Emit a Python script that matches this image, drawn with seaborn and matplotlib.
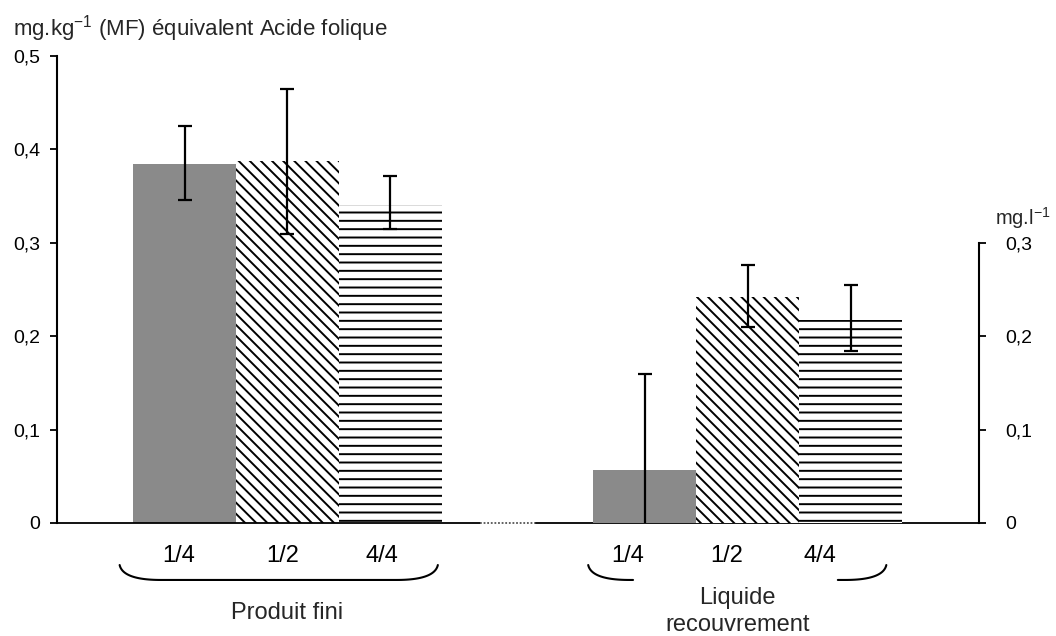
import numpy as np
import matplotlib.pyplot as plt
import seaborn as sns

# doses on the x axis, same for both groups
doses = ["1/4", "1/2", "4/4"]
group_names = ["Produit fini", "Liquide\nrecouvrement"]

# produit fini, left axis (mg.kg-1 MF)
produit = [0.384, 0.388, 0.340]
produit_low = [0.346, 0.309, 0.315]
produit_high = [0.425, 0.465, 0.372]

# liquide de recouvrement, right axis (mg.l-1)
liquide = [0.057, 0.242, 0.217]
liquide_low = [-0.046, 0.210, 0.184]
liquide_high = [0.160, 0.276, 0.255]

left_ticks = [0, 0.1, 0.2, 0.3, 0.4, 0.5]
left_ticklabels = ["0", "0,1", "0,2", "0,3", "0,4", "0,5"]
right_ticks = [0, 0.1, 0.2, 0.3]
right_ticklabels = ["0", "0,1", "0,2", "0,3"]

sns.set_style("white")
plt.rcParams["font.family"] = ["Liberation Sans", "DejaVu Sans"]
plt.rcParams["mathtext.fontset"] = "custom"
plt.rcParams["mathtext.rm"] = "Liberation Sans"
plt.rcParams["hatch.linewidth"] = 1.4

fig = plt.figure(figsize=(10.56, 6.36), dpi=100)
ax = fig.add_axes([0.054, 0.1777, 0.873, 0.7343])
ax2 = ax.twinx()

x1 = np.arange(3)
x2 = np.arange(3) + 4.47
xlim = (-1.238, 7.714)

hatches = [None, "\\\\\\", "--"]
faces = ["#8a8a8a", "white", "white"]

# bars
sns.barplot(x=x1, y=produit, native_scale=True, width=1, color="white",
            edgecolor="black", linewidth=0, errorbar=None, ax=ax)
sns.barplot(x=x2, y=liquide, native_scale=True, width=1, color="white",
            edgecolor="black", linewidth=0, errorbar=None, ax=ax2)
for a in (ax, ax2):
    for p, h, f in zip(a.patches, hatches, faces):
        p.set_facecolor(f)
        p.set_hatch(h)

# error bars
ax.errorbar(x1, produit, yerr=[np.subtract(produit, produit_low), np.subtract(produit_high, produit)],
            fmt="none", ecolor="black", elinewidth=1.6, capsize=4.7, capthick=1.6)
ax2.errorbar(x2, liquide, yerr=[np.subtract(liquide, liquide_low), np.subtract(liquide_high, liquide)],
             fmt="none", ecolor="black", elinewidth=1.6, capsize=4.7, capthick=1.6)

ax.set_ylim(0, 0.5)
ax2.set_ylim(0, 0.5)

# spines
for s in ["top", "right", "bottom"]:
    ax.spines[s].set_visible(False)
for s in ["top", "left", "bottom"]:
    ax2.spines[s].set_visible(False)
ax.spines["left"].set_linewidth(1.5)
ax.spines["left"].set_color("black")
ax2.spines["right"].set_linewidth(1.5)
ax2.spines["right"].set_color("black")
ax2.spines["right"].set_bounds(0, 0.3)

ax.set_yticks(left_ticks, left_ticklabels)
ax.tick_params(axis="y", left=True, direction="out", length=5, width=1.3, pad=7,
               labelsize=14, colors="black")
ax2.set_yticks(right_ticks, right_ticklabels)
ax2.tick_params(axis="y", right=True, direction="out", length=5, width=1.3, pad=14,
                labelsize=14, colors="black")

# dose labels, set a little left of the bar centres as in the original
label_shift = [-0.06, -0.05, -0.08, -0.17, -0.21, -0.3]
ax.set_xticks(np.concatenate([x1, x2]) + label_shift, doses * 2)
ax.tick_params(axis="x", bottom=False, length=0, pad=16, labelsize=17, colors="black")
ax.set_xlabel("")
ax.set_ylabel("")
ax2.set_ylabel("")

# baseline with a dotted break between the groups
trans = ax.get_xaxis_transform()
ax.plot([xlim[0], 2.87], [0, 0], color="black", lw=1.3, transform=trans, clip_on=False)
ax.plot([2.87, 3.41], [0, 0], color="#555555", lw=1.3, ls=(0, (1, 1)), transform=trans, clip_on=False)
ax.plot([3.41, xlim[1]], [0, 0], color="black", lw=1.3, transform=trans, clip_on=False)


def brace(a, x0, x1_, y_top, y_bot, rx, gap=None):
    t = np.linspace(0, 1, 30)
    # left curve (quadratic bezier)
    lx = (1 - t) ** 2 * x0 + 2 * (1 - t) * t * (x0 + 0.08 * rx) + t ** 2 * (x0 + rx)
    ly = (1 - t) ** 2 * y_top + 2 * (1 - t) * t * y_bot + t ** 2 * y_bot
    mx = np.linspace(x0 + rx, x1_ - rx, 60)
    my = np.full_like(mx, y_bot)
    rxs = (1 - t) ** 2 * (x1_ - rx) + 2 * (1 - t) * t * (x1_ - 0.08 * rx) + t ** 2 * x1_
    rys = (1 - t) ** 2 * y_bot + 2 * (1 - t) * t * y_bot + t ** 2 * y_top
    xs = np.concatenate([lx, mx, rxs])
    ys = np.concatenate([ly, my, rys])
    if gap is not None:
        ys = np.where((xs > gap[0]) & (xs < gap[1]), np.nan, ys)
    a.plot(xs, ys, color="black", lw=1.5, transform=a.get_xaxis_transform(), clip_on=False)


brace(ax, -0.63, 2.46, -0.09, -0.122, 0.4)
brace(ax, 3.92, 6.815, -0.09, -0.122, 0.4, gap=(4.38, 6.34))

ax.text(x1.mean(), -0.193, group_names[0], transform=trans, ha="center", va="center", fontsize=17)
ax.text(x2.mean() - 0.1, -0.19, group_names[1], transform=trans, ha="center", va="center",
        fontsize=17, linespacing=1.3)

ax.set_xlim(*xlim)

fig.text(0.0125, 0.9434, r"mg.kg$^{-1}$ (MF) équivalent Acide folique", fontsize=16, va="baseline")
fig.text(0.942, 0.646, r"mg.l$^{-1}$", fontsize=14.5, va="baseline")

fig.savefig("out.png", dpi=100)
